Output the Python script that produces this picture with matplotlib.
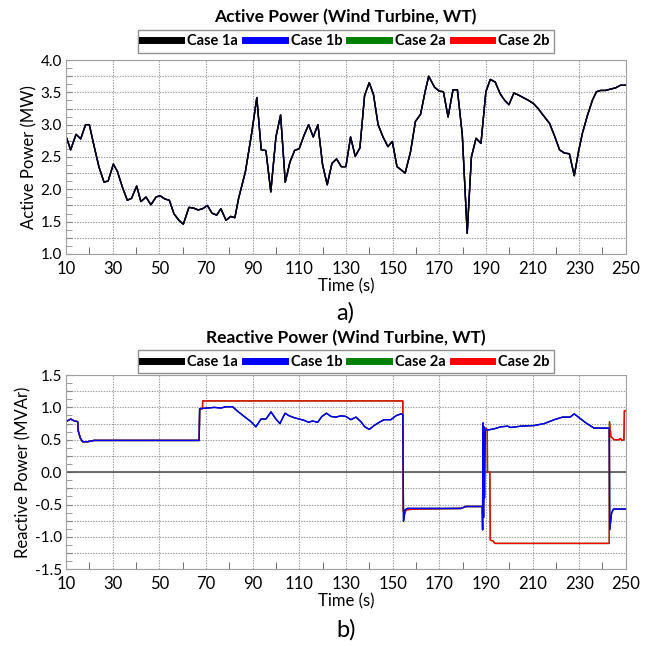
"""Wind turbine active / reactive power, four cases."""

import matplotlib
matplotlib.use("Agg")
import matplotlib.pyplot as plt
from matplotlib.lines import Line2D
from matplotlib.ticker import FixedLocator, MultipleLocator, FuncFormatter

plt.rcParams["font.family"] = ["Lato", "DejaVu Sans"]

CASES = ["Case 1a", "Case 1b", "Case 2a", "Case 2b"]
CASE_COLORS = ["black", "blue", "green", "red"]

# active power (all cases practically overlap)
t_p = [10, 12, 14.3, 16.3, 18.4, 20, 22.1, 24.1, 26.3, 28.1, 30.3, 32, 34.3, 36.3,
       38.1, 40.3, 42.1, 44.3, 46.4, 48.6, 50.3, 52.4, 54.3, 56.3, 58.4, 60.3,
       62.7, 64.6, 66.7, 68.6, 70.6, 72.6, 74.6, 76.4, 78.6, 80.6, 82.4, 84,
       86.9, 89.7, 91.8, 93.7, 95.7, 97.8, 100, 102, 104, 106, 108, 110, 112,
       114, 116, 118, 120, 122, 124, 126, 128, 130, 132, 134, 136, 138, 140,
       141.8, 143.8, 145.9, 148, 149.9, 151.9, 153.7, 155.4, 157.7, 159.8, 162,
       164, 165.5, 168, 170, 171.8, 173.8, 175.9, 177.8, 179.9, 182, 183.8,
       185.8, 187.9, 190, 191.9, 194, 196.1, 198, 199.9, 202, 203.9, 206,
       208.1, 210.3, 212.4, 214.5, 217.3, 219.4, 221.6, 223.7, 225.8, 227.9,
       229.7, 231.4, 233.6, 235.7, 237.4, 239.2, 241.3, 243.4, 245.6, 247.7, 250]
p_mw = [2.82, 2.61, 2.85, 2.78, 3.0, 3.0, 2.66, 2.35, 2.11, 2.13, 2.39, 2.28, 2.02,
        1.83, 1.86, 2.05, 1.81, 1.88, 1.76, 1.88, 1.90, 1.85, 1.83, 1.62, 1.52,
        1.46, 1.72, 1.71, 1.68, 1.70, 1.75, 1.63, 1.60, 1.70, 1.52, 1.58, 1.56,
        1.86, 2.27, 2.89, 3.42, 2.61, 2.60, 1.96, 2.81, 3.15, 2.11, 2.42, 2.60,
        2.63, 2.83, 3.0, 2.81, 3.0, 2.38, 2.07, 2.40, 2.47, 2.35, 2.35, 2.81,
        2.51, 2.64, 3.45, 3.65, 3.47, 3.0, 2.81, 2.66, 2.74, 2.35, 2.30, 2.25,
        2.58, 3.05, 3.16, 3.52, 3.75, 3.58, 3.52, 3.51, 3.12, 3.54, 3.54, 2.84,
        1.32, 2.50, 2.79, 2.71, 3.51, 3.70, 3.66, 3.48, 3.38, 3.31, 3.49, 3.46,
        3.42, 3.38, 3.33, 3.25, 3.15, 3.02, 2.83, 2.61, 2.56, 2.55, 2.21, 2.58,
        2.87, 3.15, 3.38, 3.51, 3.53, 3.53, 3.55, 3.57, 3.61, 3.61]

# reactive power, case 1b (blue); case 1a lies underneath
t_q1 = [10, 12, 13.6, 15, 15.3, 16.1, 17.1, 19.3, 22, 67.1, 67.3, 70.7, 73.6, 76.4,
        78.6, 81.4, 83.6, 86.4, 89.3, 91.4, 93.6, 95.7, 97.9, 100, 101.7, 103.9,
        105.7, 107.9, 110, 112.1, 114, 115.7, 117.9, 119.7, 121.7, 123.6, 125.7,
        127.9, 130, 132.1, 134.3, 136.4, 138.1, 140, 142.1, 144.3, 146.4, 149.3,
        151.4, 153.6, 154.4, 154.7, 155.4, 156.4, 165, 179.3, 181.4, 188.4,
        188.6, 188.8, 189.0, 189.2, 189.4, 189.7, 190.7, 193.6, 196.4, 199.3,
        200.7, 205, 210.7, 215, 219.3, 222.9, 226.1, 227.9, 230, 232.9, 236.4,
        242.9, 243.1, 243.9, 244.7, 250]
q_1b = [0.78, 0.82, 0.79, 0.78, 0.63, 0.53, 0.47, 0.47, 0.49, 0.49, 0.98, 0.99,
        1.0, 0.99, 1.01, 1.01, 0.94, 0.86, 0.78, 0.70, 0.82, 0.82, 0.93, 0.82,
        0.75, 0.91, 0.87, 0.84, 0.82, 0.80, 0.77, 0.79, 0.77, 0.86, 0.91, 0.86,
        0.85, 0.87, 0.86, 0.81, 0.85, 0.78, 0.70, 0.66, 0.72, 0.77, 0.81, 0.81,
        0.87, 0.90, 0.89, -0.76, -0.58, -0.56, -0.56, -0.56, -0.53, -0.53,
        -0.89, 0.76, -0.70, 0.70, -0.40, 0.66, 0.65, 0.67, 0.70, 0.71, 0.69,
        0.71, 0.72, 0.75, 0.81, 0.85, 0.85, 0.90, 0.84, 0.76, 0.68, 0.68, -0.89,
        -0.63, -0.57, -0.57]

# reactive power, case 2b (red); case 2a lies underneath
t_q2 = [10, 12, 13.6, 15, 15.3, 16.1, 17.1, 19.3, 22, 67.1, 67.3, 68.5, 68.6, 154.4,
        154.6, 155, 156, 160, 179.3, 181.4, 188.6, 188.8, 190.6, 190.7, 191.7,
        191.9, 193, 193.9, 242.9, 243.0, 243.6, 245, 247, 247.7, 248.3, 249.2,
        249.4, 250]
q_2b = [0.78, 0.82, 0.79, 0.78, 0.63, 0.53, 0.47, 0.47, 0.49, 0.49, 0.98, 0.98,
        1.10, 1.10, -0.60, -0.63, -0.58, -0.57, -0.56, -0.53, -0.53, 0.70, 0.66,
        0.0, 0.0, -1.05, -1.06, -1.10, -1.10, 0.78, 0.55, 0.50, 0.50, 0.52,
        0.49, 0.50, 0.95, 0.95]

X_TICKS = list(range(10, 251, 20))
GRID = "#9a9a9a"


def style_axes(ax, ylim, ylabel):
    ax.set_xlim(10, 250)
    ax.set_ylim(*ylim)
    ax.xaxis.set_major_locator(FixedLocator(X_TICKS))
    ax.xaxis.set_minor_locator(FixedLocator(list(range(20, 250, 20))))
    ax.yaxis.set_major_locator(MultipleLocator(0.25))
    ax.yaxis.set_minor_locator(MultipleLocator(0.125))
    ax.yaxis.set_major_formatter(
        FuncFormatter(lambda v, _: f"{v:.1f}" if abs(v * 2 - round(v * 2)) < 1e-6 else ""))
    ax.tick_params(axis="x", which="major", length=0, labelsize=12, pad=5)
    ax.tick_params(axis="x", which="minor", direction="in", length=5, color="#555555")
    ax.tick_params(axis="y", which="both", direction="in", length=4, color="#888888",
                   labelsize=11, pad=3)
    ax.grid(True, which="major", color=GRID, linestyle=(0, (1.2, 1.2)), linewidth=0.8)
    ax.set_axisbelow(True)
    for s in ax.spines.values():
        s.set_color("#a0a0a0")
    ax.set_xlabel("Time (s)", fontsize=12, labelpad=1)
    ax.set_ylabel(ylabel, fontsize=12, labelpad=2)


def add_legend(fig, y):
    handles = [Line2D([], [], color=c, lw=5) for c in CASE_COLORS]
    fig.legend(handles, CASES, loc="center", bbox_to_anchor=(0.527, y), ncol=4,
               fancybox=False, edgecolor="#909090", framealpha=1,
               prop={"weight": "bold", "size": 10.5}, handlelength=2.7,
               handletextpad=0.4, columnspacing=0.5, borderpad=0.3)


fig = plt.figure(figsize=(6.56, 6.46), dpi=100)
ax1 = fig.add_axes([0.1006, 0.607, 0.8534, 0.300])
ax2 = fig.add_axes([0.1006, 0.1187, 0.8534, 0.3008])

# a) active power
for lab, col in zip(CASES[::-1], CASE_COLORS[::-1]):
    ax1.plot(t_p, p_mw, color=col, lw=1.0, label=lab)
style_axes(ax1, (1.0, 4.0), "Active Power (MW)")

# b) reactive power
ax2.axhline(0, color="#555555", lw=1.2)
ax2.plot(t_q1, q_1b, color="black", lw=1.0)
ax2.plot(t_q2, q_2b, color="green", lw=1.0)
ax2.plot(t_q2, q_2b, color="red", lw=1.0)
ax2.plot(t_q1, q_1b, color="blue", lw=1.0)
style_axes(ax2, (-1.5, 1.5), "Reactive Power (MVAr)")

fig.text(0.527, 0.973, "Active Power (Wind Turbine, WT)", ha="center", va="center",
         fontsize=12.5, fontweight="bold")
add_legend(fig, 0.936)
fig.text(0.527, 0.515, "a)", ha="center", va="center", fontsize=17)

fig.text(0.527, 0.477, "Reactive Power (Wind Turbine, WT)", ha="center", va="center",
         fontsize=12.5, fontweight="bold")
add_legend(fig, 0.440)
fig.text(0.527, 0.025, "b)", ha="center", va="center", fontsize=17)

fig.savefig("out.png", dpi=100)
